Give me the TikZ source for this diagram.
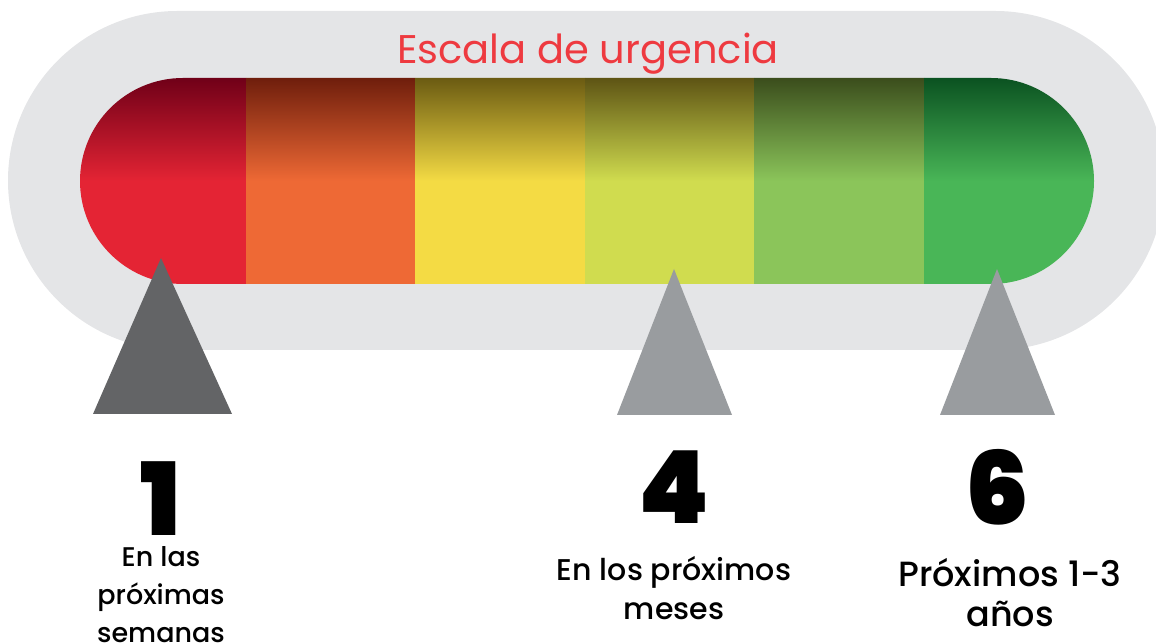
\documentclass[tikz,border=0pt]{standalone}
\usepackage{fontspec}
\setmainfont{Poppins}
\newfontfamily\numfont{Poppins Black}
\newfontfamily\capfont{Poppins Medium}
\usetikzlibrary{positioning}
\definecolor{shellgray}{HTML}{E4E5E7}
\definecolor{titlered}{HTML}{EE3A40}
\definecolor{ptrdark}{HTML}{636466}
\definecolor{ptrlight}{HTML}{999C9F}
\definecolor{urgA}{HTML}{E42434}
\definecolor{urgAtop}{HTML}{700018}
\definecolor{urgB}{HTML}{EE6935}
\definecolor{urgBtop}{HTML}{6F1E0C}
\definecolor{urgC}{HTML}{F4DB44}
\definecolor{urgCtop}{HTML}{6B5B12}
\definecolor{urgD}{HTML}{D0DC4F}
\definecolor{urgDtop}{HTML}{5E5414}
\definecolor{urgE}{HTML}{8BC55A}
\definecolor{urgEtop}{HTML}{3B4D1C}
\definecolor{urgF}{HTML}{49B657}
\definecolor{urgFtop}{HTML}{0B5221}
\tikzset
{
    shell/.style   = {fill=shellgray},
    pointer/.style = {fill=ptrlight},
    rank/.style    = {font=\numfont\fontsize{101}{101}\selectfont, anchor=base, inner sep=0pt},
    caption/.style = {align=center, anchor=base, inner sep=0pt},
    heading/.style = {font=\fontsize{40}{40}\selectfont, text=titlered, anchor=base, inner sep=0pt}
}

\begin{document}
\begin{tikzpicture}[x=1pt, y=1pt]
	\useasboundingbox (0,0) rectangle (1156,644);
	\begin{scope}
	\clip (0,0) rectangle (1156,644);
	% outer grey shell
	\fill[shell] (177.5,633) -- (995,633) arc (90:-90:169.5) -- (177.5,294) arc (270:90:169.5) -- cycle;
	\end{scope}

	% colour bar
	\begin{scope}
	\clip (183,566) -- (991,566) arc (90:-90:103) -- (183,360) arc (270:90:103) -- cycle;
	\foreach \xa/\xb/\c in {70/246/urgA, 246/415/urgB, 415/585/urgC, 585/754/urgD, 754/924/urgE, 924/1100/urgF}
		\shade[top color=\c top, bottom color=\c, middle color=\c] (\xa,360) rectangle (\xb,566);
	\end{scope}

	\node (title) [heading] at (588,580) {Escala de urgencia};

	% pointers
	\coordinate (tip1) at (161,386);
	\coordinate (tip4) at (674,375);
	\coordinate (tip6) at (997,375);
	\fill[pointer, fill=ptrdark] (93,230) -- (tip1) -- (232,230) -- cycle;
	\fill[pointer] (617,229) -- (tip4) -- (732,229) -- cycle;
	\fill[pointer] (940,229) -- (tip6) -- (1055,229) -- cycle;

	\node (n1) [rank] at (161,108) {1};
	\node (n4) [rank] at (674,120) {4};
	\node (n6) [rank] at (997,119) {6};

	% captions (anchored on their last line)
	\node (cap1) [caption, font=\capfont\fontsize{27}{38}\selectfont] at (161,1) {En las\\próximas\\semanas};
	\node (cap4) [caption, font=\capfont\fontsize{30}{39}\selectfont] at (674,24) {En los próximos\\meses};
	\node (cap6) [caption, font=\capfont\fontsize{35}{40}\selectfont] at (1010,17) {Próximos 1-3\\años};
\end{tikzpicture}
\end{document}
